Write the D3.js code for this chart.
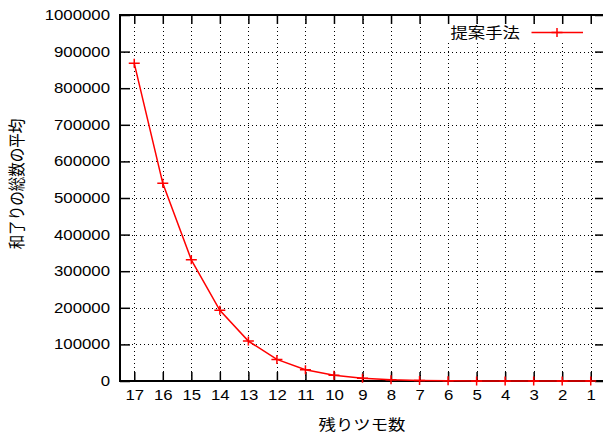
<!DOCTYPE html>
<html>
<head>
<meta charset="utf-8">
<script src="https://cdn.jsdelivr.net/npm/d3@7"></script>
<style>
  body { margin: 0; background: #fff; }
  text { font-family: "Liberation Sans", "Noto Sans CJK JP", sans-serif; fill: #000; }
</style>
</head>
<body>
<div id="chart"></div>
<script>
// data
var remaining = [17, 16, 15, 14, 13, 12, 11, 10, 9, 8, 7, 6, 5, 4, 3, 2, 1];
var avgWins = [868000, 540000, 331000, 193000, 109000, 59000, 30600, 16000, 7800, 3300, 1300, 500, 180, 60, 20, 5, 1];
var yTicks = [0, 100000, 200000, 300000, 400000, 500000, 600000, 700000, 800000, 900000, 1000000];
var seriesName = "提案手法";
var xTitle = "残りツモ数";
var yTitle = "和了りの総数の平均";

var svgWidth = 603;
var svgHeight = 436;
var sx = 1.2; // the picture is stretched sideways

var margin = { top: 15, right: -2, bottom: 55, left: 120 };
var width = svgWidth - margin.left - margin.right;
var height = svgHeight - margin.top - margin.bottom;

var svg = d3.select("#chart")
  .append("svg")
  .attr("width", svgWidth)
  .attr("height", svgHeight);

var chartGroup = svg.append("g")
  .attr("transform", `translate(${margin.left}, ${margin.top})`);

var x = d3.scaleLinear().domain([17.5, 0.5]).range([0, width]);
var y = d3.scaleLinear().domain([0, 1000000]).range([height, 0]);

// grid
var grid = chartGroup.append("g")
  .attr("stroke", "#000")
  .attr("stroke-width", 1)
  .attr("stroke-dasharray", "1,3");

grid.selectAll(".vgrid")
  .data(remaining)
  .enter()
  .append("line")
  .attr("x1", d => Math.round(x(d)) + 0.5)
  .attr("x2", d => Math.round(x(d)) + 0.5)
  .attr("y1", 0)
  .attr("y2", height);

grid.selectAll(".hgrid")
  .data(yTicks.slice(1, -1))
  .enter()
  .append("line")
  .attr("x1", 0)
  .attr("x2", width)
  .attr("y1", d => Math.round(y(d)) + 0.5)
  .attr("y2", d => Math.round(y(d)) + 0.5);

// blank area behind the key
chartGroup.append("rect")
  .attr("x", 318)
  .attr("y", 9)
  .attr("width", 170)
  .attr("height", 18)
  .attr("fill", "#fff");

// axes, ticks pointing inward
var bottomAxis = d3.axisBottom(x).tickValues(remaining).tickSize(-9).tickPadding(9).tickFormat(d3.format("d"));
var topAxis = d3.axisTop(x).tickValues(remaining).tickSize(-9).tickFormat("");
var leftAxis = d3.axisLeft(y).tickValues(yTicks).tickSize(-10).tickPadding(10).tickFormat(d3.format("d"));
var rightAxis = d3.axisRight(y).tickValues(yTicks).tickSize(-10).tickFormat("");

var gx = chartGroup.append("g").attr("transform", `translate(0, ${height})`).call(bottomAxis);
chartGroup.append("g").call(topAxis);
var gy = chartGroup.append("g").call(leftAxis);
chartGroup.append("g").attr("transform", `translate(${width}, 0)`).call(rightAxis);

chartGroup.selectAll(".domain").remove();
chartGroup.selectAll(".tick line").attr("stroke", "#000").attr("stroke-width", 1.5);

gx.selectAll("text")
  .attr("font-size", 14)
  .attr("dy", "0.71em")
  .attr("transform", `scale(${sx},1)`);

gy.selectAll("text")
  .attr("font-size", 14)
  .attr("x", -10 / sx)
  .attr("transform", `scale(${sx},1)`);

// frame
chartGroup.append("rect")
  .attr("x", 0)
  .attr("y", 0)
  .attr("width", width)
  .attr("height", height)
  .attr("fill", "none")
  .attr("stroke", "#000")
  .attr("stroke-width", 2);

// series
var points = remaining.map((r, i) => [r, avgWins[i]]);

var line = d3.line()
  .x(d => x(d[0]))
  .y(d => y(d[1]));

chartGroup.append("path")
  .datum(points)
  .attr("d", line)
  .attr("fill", "none")
  .attr("stroke", "#ff0000")
  .attr("stroke-width", 1.5);

var plus = "M-5.5,0H5.5M0,-4.5V4.5";

chartGroup.selectAll(".pt")
  .data(points)
  .enter()
  .append("path")
  .attr("transform", d => `translate(${x(d[0])}, ${y(d[1])})`)
  .attr("d", plus)
  .attr("stroke", "#ff0000")
  .attr("stroke-width", 1.5);

// key
chartGroup.append("text")
  .attr("transform", `translate(400, 23) scale(${sx},1)`)
  .attr("text-anchor", "end")
  .attr("font-size", 14.5)
  .text(seriesName);

chartGroup.append("line")
  .attr("x1", 411.5)
  .attr("x2", 463)
  .attr("y1", 17.5)
  .attr("y2", 17.5)
  .attr("stroke", "#ff0000")
  .attr("stroke-width", 1.5);

chartGroup.append("path")
  .attr("transform", "translate(437, 17.5)")
  .attr("d", plus)
  .attr("stroke", "#ff0000")
  .attr("stroke-width", 1.5);

// axis titles
svg.append("text")
  .attr("transform", `translate(362, 430) scale(${sx},1)`)
  .attr("text-anchor", "middle")
  .attr("font-size", 14.5)
  .text(xTitle);

svg.append("text")
  .attr("transform", `translate(17, 184) scale(${sx},1) rotate(-90)`)
  .attr("text-anchor", "middle")
  .attr("dy", "0.35em")
  .attr("font-size", 14.5)
  .text(yTitle);
</script>
</body>
</html>
